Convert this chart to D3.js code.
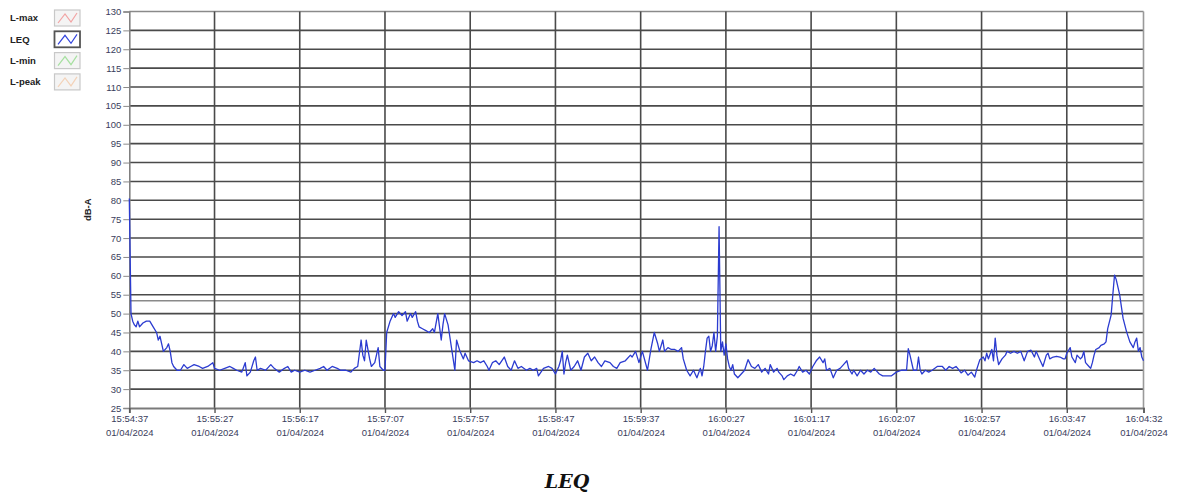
<!DOCTYPE html>
<html><head><meta charset="utf-8">
<script src="https://cdn.jsdelivr.net/npm/d3@7"></script>
<style>body{margin:0;background:#fff}svg{display:block}</style>
</head><body><svg id="c" width="1179" height="497"></svg>
<script>
// ---- data ----
const startTime = "2024-04-01T15:54:37";
const durationSec = 595;
const secs = [0,1,2,3,4,5,6,8,10,12,14,16,17,18,19,20,22,23,24,25,26,28,30,32,34,36,38,41,43,46,49,50,53,56,59,61,63,66,68,69,71,73,74,75,77,80,81,83,85,88,91,93,95,97,100,103,106,109,112,114,116,119,122,124,127,130,132,134,136,137,138,139,141,142,144,146,147,149,150,151,153,155,156,158,160,162,163,165,166,168,169,170,172,174,176,178,179,181,183,184,185,187,188,189,191,192,194,196,197,199,202,204,206,208,210,211,213,215,217,220,222,224,226,228,230,233,235,237,239,240,243,246,248,250,252,253,254,255,256,257,259,261,263,265,267,269,271,273,275,277,279,282,284,286,288,291,294,295,297,299,301,304,306,308,310,311,313,314,316,318,320,322,324,325,327,329,331,333,335,336,337,338,339,340,341,342,343,344,345,346,347,348,349,350,351,352,353,354,355,357,359,361,363,365,367,369,371,373,375,376,378,380,381,383,384,386,388,390,392,393,395,397,399,401,403,405,407,408,409,411,413,415,417,419,421,422,424,425,427,429,431,433,435,437,440,442,444,447,450,453,455,456,457,458,460,462,463,464,465,467,469,471,474,477,479,481,483,485,486,488,490,492,494,496,497,499,501,502,503,504,506,507,508,509,510,512,514,515,517,519,521,523,525,527,529,531,532,534,536,538,539,540,542,544,546,548,549,550,552,553,555,556,558,559,560,561,563,564,565,566,567,569,570,572,573,574,576,577,578,579,581,583,585,587,589,590,591,592,593,594,595];
const leq = [80.5,50,48,47,46.5,48,46.5,47.5,48,48,46.5,45,43,44,42,40,41,42,40,37,36,35,35,36.5,35.5,36,36.5,36,35.5,36,37,35.5,35,35.5,36,35.5,35,34.5,37,33.5,34.5,37.5,38.5,35,35.5,35,35.5,36.5,35.5,34.5,35.5,36,34.5,35,34.5,35,34.5,35,35.5,36,35,36,35.5,35,35,34.5,35.5,36,43,39,37.5,43,38,36,37,41,36,35,35,45,48,50,49,50.5,49.5,50.5,48,50,49,50.5,48,46.5,46,45.5,45,46,45,50,43,47,50,47,44,41,35,43,40,38,39.5,37.5,37,37.5,37,37.5,36,35,37,37.5,36.5,38.5,36,35,37.5,35.5,36,35,35.5,35,35.5,33.5,35.5,36,35.5,34,36,37.5,40,34,37,39,35,36,37.5,35,38.5,39.5,37.5,38.5,37,36,37.5,37,36,35.5,37,37.5,39,38.5,40,37,40,35,40.5,45,42,40,43,40,41,40.5,40.5,40,41,38,35,33.5,35,33,35.5,33.5,36,40,43.5,44,40,41.5,45,40,44,73,40,42.5,39,42,38,36,35,36.5,34,33,34,35,37.8,36,35.5,36.5,34.5,35.5,34,36.5,34.5,35.5,34.5,33.5,32.5,33.5,34,33.5,35,36,34.5,35,34,36,37.5,38.5,37,38,35,35.5,33,35,35.5,36.5,37.5,35.5,34,35,33.5,35,34,35,34.5,35.5,34,33.5,33.5,33.5,34.5,35,35,35,40.7,39,35,35,38.5,35,34,35,34.5,35,36,36,35,36,35.5,36,35.5,34.3,35,33.7,34.5,33.2,35,37.8,38.5,37.5,39.5,38,40.5,37.5,43.5,39,36.5,38,39,40,39.5,40,39.5,40,37.5,40,40.3,38.5,40,38,36,39,39.5,38,38.5,38.7,38.5,38,38,39.5,41,38.5,37,39,38,38.5,40,37,36,35.5,37,39,40.5,41,41.6,42,42.5,46,49.6,55,60.2,59,55,48.8,45.3,42.5,41,42.5,43.5,40,41,38.5,37.5];
const yTickValues = [25,30,35,40,45,50,55,60,65,70,75,80,85,90,95,100,105,110,115,120,125,130];
const refLevel = 53.4;
const xTickLabels = ["15:54:37","15:55:27","15:56:17","15:57:07","15:57:57","15:58:47","15:59:37","16:00:27","16:01:17","16:02:07","16:02:57","16:03:47","16:04:32"];
const dateLabel = "01/04/2024";
const legendNames = ["L-max","LEQ","L-min","L-peak"];
const yTitle = "dB-A";
const chartTitle = "LEQ";

// ---- style ----
const legendColors = ["#f2a3a3","#3344dd","#a6e0a0","#f3d2b8"];
const W = 1179, H = 497;
const m = {left:129.3, right:1143.5, top:11.5, bottom:408};

const svg = d3.select("#c");
svg.append("rect").attr("width",W).attr("height",H).attr("fill","#fff");

const t0 = new Date(startTime);
const toDate = s => new Date(t0.getTime() + s*1000);
const parseTick = str => { const [h,mi,s] = str.split(":").map(Number); const d = new Date(t0); d.setHours(h,mi,s); return d; };

const x = d3.scaleTime().domain([t0, toDate(durationSec)]).range([m.left, m.right]);
const y = d3.scaleLinear().domain([25,130]).range([m.bottom, m.top]);

// horizontal grid
const grid = svg.append("g");
grid.selectAll("line.h").data(yTickValues.filter(v=>v>25 && v<130)).enter().append("line")
  .attr("x1",m.left).attr("x2",m.right).attr("y1",d=>y(d)).attr("y2",d=>y(d))
  .attr("stroke","#4a4a4a").attr("stroke-width",1.6);
grid.append("line").attr("x1",m.left).attr("x2",m.right).attr("y1",y(refLevel)).attr("y2",y(refLevel))
  .attr("stroke","#8a8a8a").attr("stroke-width",1.4);
grid.append("line").attr("x1",m.left).attr("x2",m.right).attr("y1",y(130)).attr("y2",y(130))
  .attr("stroke","#8a8a8a").attr("stroke-width",1.6);
// vertical grid
const xTicks = xTickLabels.map(parseTick);
grid.selectAll("line.v").data(xTicks.slice(1, -1)).enter().append("line")
  .attr("x1",d=>x(d)).attr("x2",d=>x(d)).attr("y1",m.top).attr("y2",m.bottom)
  .attr("stroke","#4a4a4a").attr("stroke-width",1.6);
grid.append("line").attr("x1",m.right).attr("x2",m.right).attr("y1",m.top).attr("y2",m.bottom)
  .attr("stroke","#9a9a9a").attr("stroke-width",1.6);

// y axis
const yAxis = svg.append("g").attr("transform",`translate(${m.left},0)`)
  .call(d3.axisLeft(y).tickValues(yTickValues).tickSize(6).tickPadding(2).tickFormat(d3.format("d")));
yAxis.select(".domain").attr("stroke","#808080").attr("stroke-width",1.6);
yAxis.selectAll(".tick line").attr("stroke","#8a8a8a");
yAxis.selectAll("text").attr("font-family","Liberation Sans, Arial, sans-serif").attr("font-size",9.5).attr("fill","#3a3d5c");

// x axis
const xAxis = svg.append("g").attr("transform",`translate(0,${m.bottom})`)
  .call(d3.axisBottom(x).tickValues(xTicks).tickSize(5).tickFormat(()=>""));
xAxis.select(".domain").attr("stroke","#7a7a7a").attr("stroke-width",1.8);
xAxis.selectAll(".tick line").attr("stroke","#555").attr("stroke-width",1.4);
xAxis.selectAll(".tick").each(function(d,i){
  const t = d3.select(this).select("text")
    .attr("font-family","Liberation Sans, Arial, sans-serif").attr("font-size",9.5).attr("fill","#3a3d5c")
    .attr("y",7);
  t.append("tspan").attr("x",0).attr("dy","0.71em").text(xTickLabels[i]);
  t.append("tspan").attr("x",0).attr("dy","1.45em").text(dateLabel);
});

// y title
svg.append("text").attr("transform",`translate(91,${(m.top+m.bottom)/2 + 0}) rotate(-90)`)
  .attr("text-anchor","middle").attr("font-family","Liberation Sans, Arial, sans-serif")
  .attr("font-size",9.5).attr("font-weight","bold").attr("fill","#222").text(yTitle);

// data line
const line = d3.line().x((d,i)=>x(toDate(secs[i]))).y(d=>y(d));
svg.append("path").datum(leq).attr("d",line).attr("fill","none")
  .attr("stroke","#2b3bd0").attr("stroke-width",1.3).attr("stroke-linejoin","round");

// legend
const lg = svg.append("g");
legendNames.forEach((name,i)=>{
  const cy = 18 + i*21.3;
  lg.append("text").attr("x",10).attr("y",cy).attr("dy","0.35em")
    .attr("font-family","Liberation Sans, Arial, sans-serif").attr("font-size",9.5)
    .attr("font-weight","bold").attr("fill","#222").text(name);
  const sel = name === "LEQ";
  lg.append("rect").attr("x",54.5).attr("y",cy-8).attr("width",25.5).attr("height",16)
    .attr("fill", sel ? "#fff" : "#f4f4f4").attr("stroke", sel ? "#555" : "#c8c8c8")
    .attr("stroke-width", sel ? 1.8 : 1.2);
  const pts = [[58,cy+5],[65,cy-4],[71,cy+4],[77,cy-5]];
  lg.append("path").attr("d",d3.line()(pts)).attr("fill","none")
    .attr("stroke",legendColors[i]).attr("stroke-width",1.2);
});

// title
svg.append("text").attr("x",567).attr("y",488).attr("text-anchor","middle")
  .attr("font-family","DejaVu Serif, Liberation Serif, serif").attr("font-style","italic")
  .attr("font-weight","bold").attr("font-size",19).attr("fill","#111").text(chartTitle);
</script></body></html>
